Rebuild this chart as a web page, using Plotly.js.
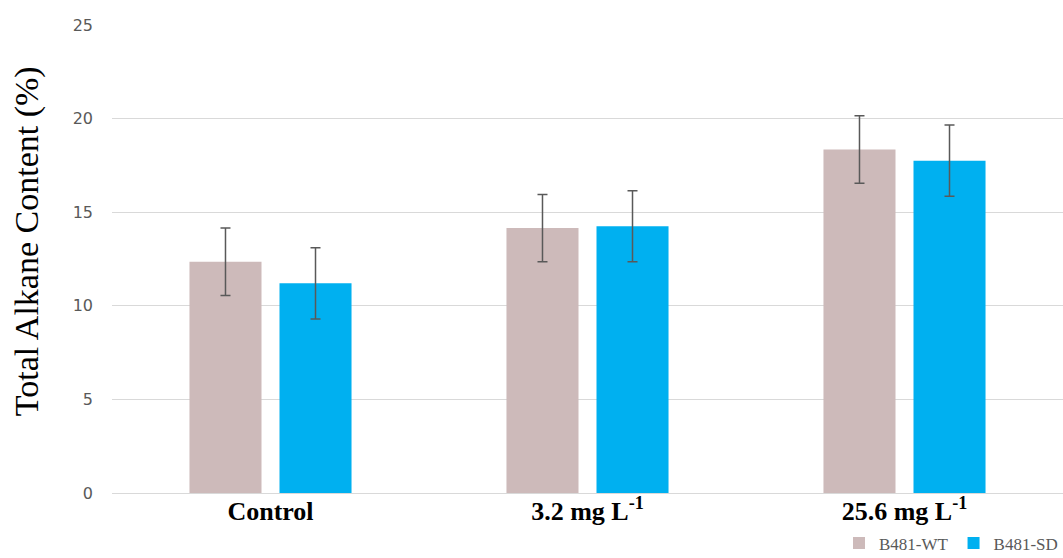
<!DOCTYPE html>
<html>
<head>
<meta charset="utf-8">
<script src="https://cdn.plot.ly/plotly-3.0.1.min.js"></script>
<style>html,body{margin:0;padding:0;background:#fff;}#chart{width:1063px;height:558px;}</style>
</head>
<body>
<div id="chart"></div>
<script>
const categories = ["Control", "3.2 mg L<sup>-1</sup>", "25.6 mg L<sup>-1</sup>"];
const seriesNames = ["B481-WT", "B481-SD"];
const wtValues = [12.35, 14.15, 18.35];
const wtErrors = [1.8, 1.8, 1.8];
const sdValues = [11.2, 14.25, 17.75];
const sdErrors = [1.9, 1.9, 1.9];
const yTicks = [0, 5, 10, 15, 20, 25];

const errStyle = {type: 'data', visible: true, color: '#595959', thickness: 1.5, width: 5};

const traces = [
  {type: 'bar', name: seriesNames[0], x: categories, y: wtValues,
   marker: {color: '#CDBABA'}, error_y: Object.assign({array: wtErrors}, errStyle), hoverinfo: 'x+y'},
  {type: 'bar', name: seriesNames[1], x: categories, y: sdValues,
   marker: {color: '#00B0F0'}, error_y: Object.assign({array: sdErrors}, errStyle), hoverinfo: 'x+y'}
];

const layout = {
  width: 1063, height: 558,
  margin: {l: 112, r: 0, t: 24, b: 65, autoexpand: false},
  paper_bgcolor: '#fff', plot_bgcolor: '#fff',
  barmode: 'group', bargap: 0.432, bargroupgap: 0.2,
  showlegend: true,
  legend: {orientation: 'h', x: 1.0, xanchor: 'right', xref: 'container', yref: 'container', y: 0.026, yanchor: 'middle',
           font: {family: 'Liberation Serif', size: 17, color: '#595959'}, itemwidth: 30, traceorder: 'normal'},
  xaxis: {type: 'category', tickfont: {family: 'Liberation Serif', size: 26, color: '#000', weight: 'bold'},
          showgrid: false, zeroline: false, showline: false, ticks: '', ticklabelstandoff: 0},
  yaxis: {range: [0, 25.05], tickvals: yTicks, ticktext: yTicks.map(String),
          tickfont: {family: 'DejaVu Sans', size: 16, color: '#595959'},
          showgrid: true, gridcolor: '#D9D9D9', gridwidth: 1, zeroline: true, zerolinecolor: '#D9D9D9', zerolinewidth: 1,
          showline: false, ticks: '', ticklabelstandoff: 18},
  annotations: [{text: 'Total Alkane Content (%)', textangle: -90, xref: 'paper', yref: 'paper',
                 x: -0.0894, y: 0.537, xanchor: 'center', yanchor: 'middle', showarrow: false,
                 font: {family: 'Liberation Serif', size: 34, color: '#000'}}]
};

Plotly.newPlot('chart', traces, layout, {displayModeBar: false, staticPlot: true});
</script>
</body>
</html>
